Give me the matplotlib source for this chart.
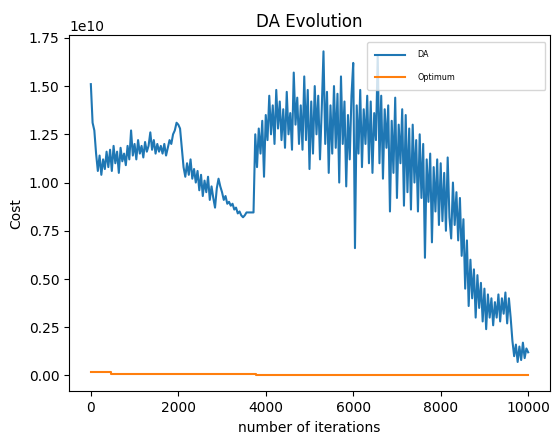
import numpy as np
import matplotlib.pyplot as plt

# DA cost sampled every 40 iterations (values in units of 1e10)
iters = np.arange(0, 10001, 40)
da_cost = np.array([
    1.51, 1.31, 1.27, 1.15, 1.06, 1.14, 1.04, 1.12, 1.07, 1.16,
    1.08, 1.17, 1.06, 1.19, 1.10, 1.16, 1.05, 1.18, 1.11, 1.15,
    1.09, 1.19, 1.12, 1.27, 1.14, 1.20, 1.12, 1.22, 1.15, 1.19,
    1.13, 1.21, 1.16, 1.19, 1.26, 1.17, 1.22, 1.15, 1.20, 1.16,
    1.19, 1.15, 1.20, 1.14, 1.18, 1.22, 1.20, 1.25, 1.27, 1.31,
    1.30, 1.28, 1.18, 1.08, 1.03, 1.10, 1.04, 1.12, 1.02, 1.07,
    1.00, 1.06, 0.96, 1.04, 0.93, 1.01, 0.95, 1.03, 0.91, 0.98,
    0.92, 0.87, 0.97, 1.02, 0.98, 0.95, 0.91, 0.93, 0.89, 0.90,
    0.88, 0.89, 0.86, 0.87, 0.84, 0.85, 0.83, 0.82, 0.83, 0.845,
    0.845, 0.845, 0.845, 0.845, 1.25, 1.08, 1.28, 1.15, 1.32, 1.03,
    1.35, 1.22, 1.45, 1.25, 1.40, 1.20, 1.48, 1.28, 1.42, 1.22,
    1.38, 1.18, 1.47, 1.25, 1.36, 1.17, 1.57, 1.30, 1.44, 1.20,
    1.40, 1.17, 1.55, 1.22, 1.48, 1.07, 1.42, 1.15, 1.50, 1.25,
    1.45, 1.12, 1.38, 1.68, 1.20, 1.47, 1.05, 1.40, 1.15, 1.50,
    1.18, 1.46, 1.00, 1.55, 1.20, 1.42, 0.98, 1.35, 1.12, 1.45,
    1.62, 0.66, 1.40, 1.15, 1.48, 1.08, 1.38, 1.20, 1.45, 1.10,
    1.42, 1.05, 1.36, 1.22, 1.66, 1.10, 1.45, 1.02, 1.38, 1.18,
    1.40, 0.85, 1.32, 1.05, 1.44, 0.92, 1.30, 1.10, 1.38, 0.88,
    1.35, 0.95, 1.28, 0.86, 1.30, 1.00, 1.22, 0.85, 1.25, 0.92,
    1.20, 0.61, 1.12, 0.90, 1.15, 0.69, 1.08, 0.85, 1.12, 0.78,
    1.10, 0.80, 1.05, 0.75, 1.13, 0.82, 0.71, 1.00, 0.78, 0.95,
    0.70, 0.92, 0.62, 0.81, 0.45, 0.70, 0.36, 0.60, 0.40, 0.55,
    0.30, 0.52, 0.35, 0.48, 0.28, 0.45, 0.24, 0.42, 0.30, 0.40,
    0.26, 0.38, 0.30, 0.42, 0.28, 0.40, 0.32, 0.43, 0.27, 0.40,
    0.30, 0.18, 0.10, 0.16, 0.07, 0.15, 0.08, 0.17, 0.09, 0.14,
    0.12,
]) * 1e10

# best cost found so far (steps)
opt_iters = [0, 460, 3770, 10000]
opt_cost = [1.9e8, 1.0e8, 0.1e8, 0.1e8]

fig = plt.figure(figsize=(5.54, 4.34), dpi=100)
fig.subplots_adjust(left=0.1245, right=0.9928, bottom=0.098, top=0.919)
plt.plot(iters, da_cost, label="DA")
plt.plot(opt_iters, opt_cost, drawstyle="steps-post", label="Optimum")
plt.title("DA Evolution")
plt.xlabel("number of iterations")
plt.ylabel("Cost")
plt.legend(loc="upper left", bbox_to_anchor=(0.62, 0.855, 0.37, 0.125), mode="expand",
           borderaxespad=0, fontsize=5.8, handlelength=3.75, handletextpad=1.5,
           labelspacing=1.7, borderpad=1.0)
plt.savefig("out.png")
